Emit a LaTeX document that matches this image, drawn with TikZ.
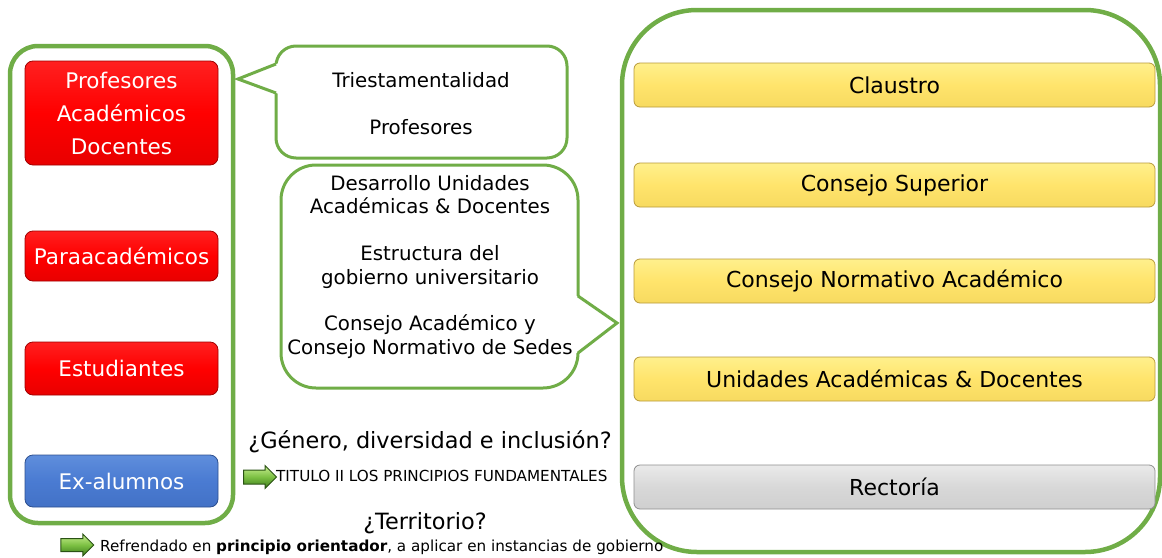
\documentclass[tikz,border=0pt]{standalone}
\usepackage{fontspec}
\setmainfont{DejaVu Sans}
\usetikzlibrary{shapes.arrows}
\definecolor{frgreen}{HTML}{70AD47}
\definecolor{rtop}{HTML}{FF2020}
\definecolor{rmid}{HTML}{FF0000}
\definecolor{rbot}{HTML}{E80000}
\definecolor{rdark}{HTML}{A00000}
\definecolor{ytop}{HTML}{FFF08C}
\definecolor{ymid}{HTML}{FFE46C}
\definecolor{ybot}{HTML}{F7DA60}
\definecolor{ydark}{HTML}{B89A3A}
\definecolor{gtop}{HTML}{EAEAEA}
\definecolor{gmid}{HTML}{D8D8D8}
\definecolor{gbot}{HTML}{CFCFCF}
\definecolor{gdark}{HTML}{8F8F8F}
\definecolor{btop}{HTML}{5F8EDC}
\definecolor{bmid}{HTML}{4A7BD2}
\definecolor{bbot}{HTML}{4372C6}
\definecolor{bdark}{HTML}{2C4F8F}
\definecolor{atop}{HTML}{C8EE90}
\definecolor{amid}{HTML}{7CC043}
\definecolor{abot}{HTML}{3A7A1A}
\definecolor{adark}{HTML}{2A5214}
\tikzset{
  frame/.style={draw=frgreen, line width=4.5pt},
  callout/.style={draw=frgreen, line width=3pt, fill=white},
  redbox/.style={rectangle, rounded corners=8pt, draw=rdark, line width=0.8pt,
    top color=rtop, bottom color=rbot, middle color=rmid, text=white,
    font=\fontsize{21.5}{33}\selectfont, align=center, minimum width=193pt, inner sep=0pt},
  bluebox/.style={redbox, draw=bdark, top color=btop, bottom color=bbot, middle color=bmid},
  ybar/.style={rectangle, rounded corners=6pt, draw=ydark, line width=0.8pt,
    top color=ytop, bottom color=ybot, middle color=ymid, text=black,
    font=\fontsize{22}{26}\selectfont, minimum width=521pt, minimum height=44pt, inner sep=0pt},
  gbar/.style={ybar, draw=gdark, top color=gtop, bottom color=gbot, middle color=gmid},
  ctext/.style={font=\fontsize{19.8}{23.4}\selectfont, align=center, inner sep=0pt},
  garrow/.style={single arrow, draw=adark, line width=1pt, top color=atop, bottom color=abot,
    middle color=amid, minimum height=33pt, minimum width=22pt, single arrow head extend=4.5pt,
    single arrow head indent=0pt, inner sep=0pt},
  qtext/.style={font=\fontsize{22.4}{26}\selectfont, inner sep=0pt},
  stext/.style={font=\fontsize{15.2}{18}\selectfont, inner sep=0pt, anchor=west},
}
\begin{document}
\begin{tikzpicture}[x=1pt, y=-1pt]
\useasboundingbox (0,0) rectangle (1162,557);
% frames
\draw[frame, rounded corners=28pt] (10,46) rectangle (233,523);
\draw[frame, rounded corners=75pt] (622,10) rectangle (1160,552);
% left column boxes
\node[redbox, minimum height=104pt] (prof) at (121.5,113) {Profesores\\Académicos\\Docentes};
\node[redbox, minimum height=50pt] (para) at (121.5,256) {Paraacadémicos};
\node[redbox, minimum height=53pt] (est) at (121.5,368.5) {Estudiantes};
\node[bluebox, minimum height=52pt] (exal) at (121.5,481) {Ex-alumnos};
% callout top
\draw[callout, rounded corners=20pt] (276,46) rectangle (567,158);
\fill[white] (279,63) -- (238,79) -- (279,94) -- cycle;
\draw[frgreen, line width=3pt] (276,64) -- (238,79) -- (276,93);
\node[ctext] (tri) at (421,80) {Triestamentalidad};
\node[ctext] (profc) at (421,127) {Profesores};
% callout middle
\draw[callout, rounded corners=35pt] (281,165) rectangle (578,388);
\fill[white] (575,295) -- (617,323) -- (575,354) -- cycle;
\draw[frgreen, line width=3pt] (578,296) -- (617,323) -- (578,353);
\node[ctext] (mid) at (430,267) {Desarrollo Unidades\\Académicas \& Docentes\\[23.4pt]Estructura del\\gobierno universitario\\[23.4pt]Consejo Académico y\\Consejo Normativo de Sedes};
% right column bars
\node[ybar] (claustro) at (894.5,85) {Claustro};
\node[ybar] (csup) at (894.5,185) {Consejo Superior};
\node[ybar] (cnorm) at (894.5,281) {Consejo Normativo Académico};
\node[ybar] (unid) at (894.5,379) {Unidades Académicas \& Docentes};
\node[gbar] (rect) at (894.5,487) {Rectoría};
% bottom texts
\node[qtext] (genero) at (430,442) {¿Género, diversidad e inclusión?};
\node[garrow] (arr1) at (256.5,477) {\rule{0pt}{13pt}};
\node[stext] (titulo) at (276,476) {TITULO II LOS PRINCIPIOS FUNDAMENTALES};
\node[qtext] (terr) at (425,523) {¿Territorio?};
\node[garrow] (arr2) at (74,545) {\rule{0pt}{12pt}};
\node[stext] (refr) at (100,547) {Refrendado en \textbf{principio orientador}, a aplicar en instancias de gobierno};
\end{tikzpicture}
\end{document}
